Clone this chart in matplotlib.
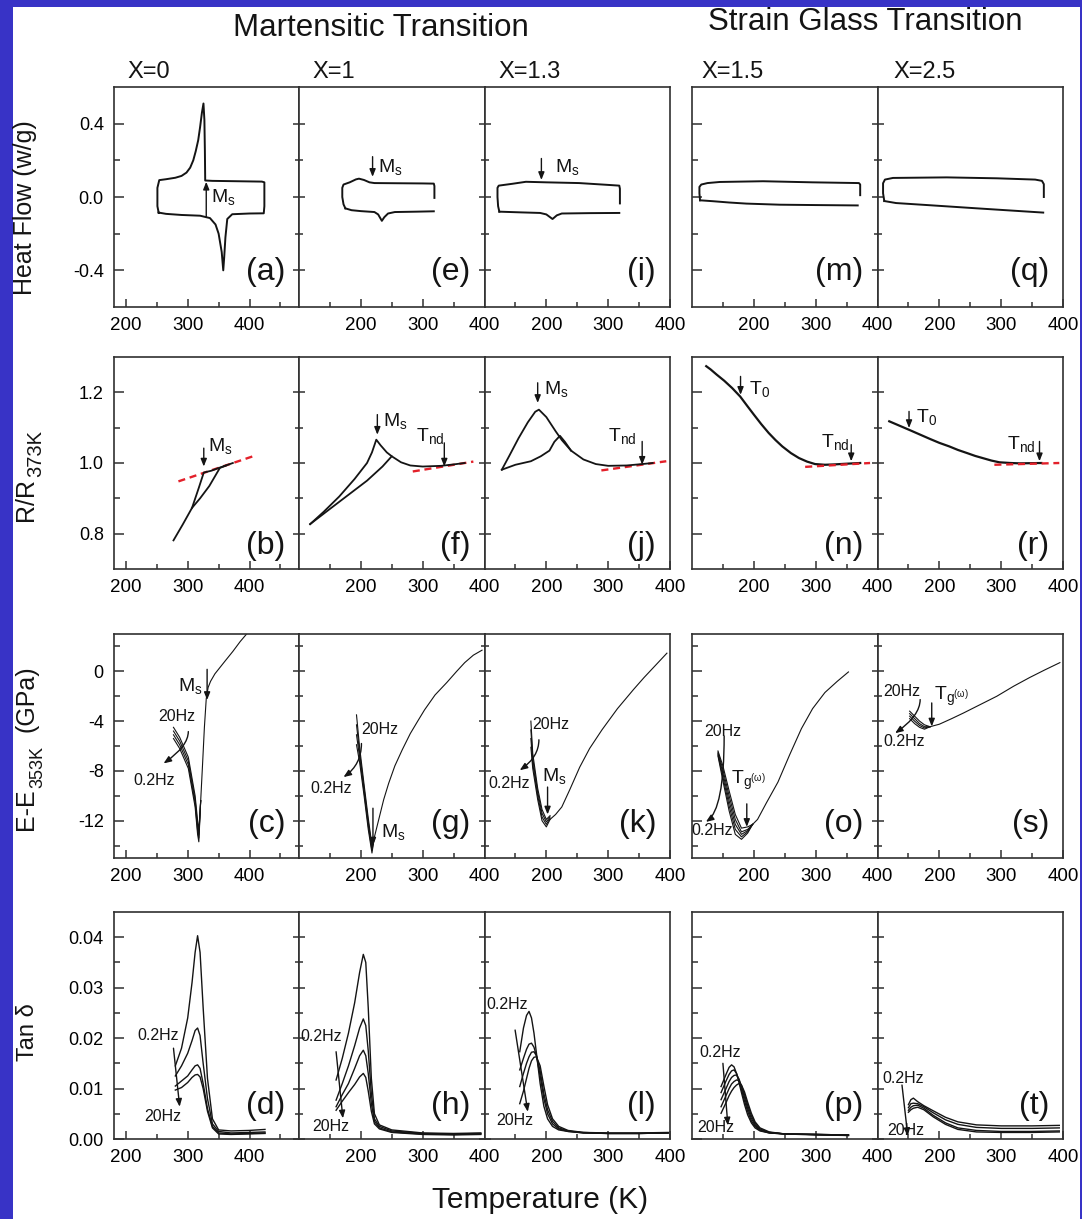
import matplotlib
matplotlib.use("Agg")
import matplotlib.pyplot as plt
from matplotlib.patches import Rectangle
from matplotlib.ticker import FixedLocator

plt.rcParams["font.family"] = ["Liberation Sans", "DejaVu Sans"]
plt.rcParams["mathtext.fontset"] = "custom"
plt.rcParams["mathtext.rm"] = "Liberation Sans"
plt.rcParams["mathtext.it"] = "Liberation Sans"
plt.rcParams["mathtext.default"] = "regular"

# ---------------- values ----------------
compositions = ["X=0", "X=1", "X=1.3", "X=1.5", "X=2.5"]
letters = [["(a)", "(e)", "(i)", "(m)", "(q)"],
           ["(b)", "(f)", "(j)", "(n)", "(r)"],
           ["(c)", "(g)", "(k)", "(o)", "(s)"],
           ["(d)", "(h)", "(l)", "(p)", "(t)"]]

# row 1: heat flow (w/g)
hf_a_T = [253, 251, 251, 254, 265, 280, 290, 298, 304, 309, 313, 317, 320, 323, 325.5, 327, 327.8, 328.3, 340, 380,
          420, 424, 424, 423, 400, 372, 364, 361, 359, 357.5, 355, 350, 345, 336, 320, 290, 265, 253]
hf_a_Q = [-0.085, -0.05, 0.05, 0.092, 0.097, 0.105, 0.115, 0.133, 0.16, 0.2, 0.25, 0.31, 0.38, 0.46, 0.51, 0.42,
          0.25, 0.09, 0.088, 0.086, 0.084, 0.08, -0.05, -0.089, -0.09, -0.094, -0.12, -0.22, -0.33, -0.40, -0.30,
          -0.20, -0.15, -0.115, -0.102, -0.098, -0.092, -0.085]
hf_e_up_T = [175, 172, 170, 170, 172, 182, 192, 197, 205, 214, 222, 260, 300, 318, 319, 319]
hf_e_up_Q = [-0.062, -0.04, 0.0, 0.05, 0.068, 0.08, 0.096, 0.10, 0.093, 0.08, 0.076, 0.075, 0.074, 0.073, 0.06, -0.005]
hf_e_lo_T = [175, 185, 200, 222, 228, 234, 238, 244, 255, 290, 318]
hf_e_lo_Q = [-0.062, -0.072, -0.077, -0.082, -0.095, -0.13, -0.11, -0.09, -0.082, -0.08, -0.078]
hf_i_up_T = [124, 122, 121, 121, 123, 145, 167, 200, 253, 300, 318, 319, 319]
hf_i_up_Q = [-0.08, -0.05, 0.0, 0.05, 0.062, 0.072, 0.083, 0.08, 0.076, 0.066, 0.062, 0.045, -0.035]
hf_i_lo_T = [124, 160, 190, 200, 210, 217, 225, 270, 318]
hf_i_lo_Q = [-0.08, -0.084, -0.087, -0.095, -0.12, -0.10, -0.09, -0.088, -0.087]
hf_m_up_T = [113, 112, 112, 115, 125, 145, 215, 295, 370, 372, 372]
hf_m_up_Q = [-0.018, 0.02, 0.055, 0.068, 0.076, 0.082, 0.086, 0.08, 0.076, 0.068, 0.01]
hf_m_lo_T = [113, 134, 160, 188, 242, 300, 368]
hf_m_lo_Q = [-0.018, -0.023, -0.03, -0.036, -0.042, -0.044, -0.046]
hf_q_up_T = [111, 109, 109, 112, 125, 212, 293, 355, 366, 369, 369]
hf_q_up_Q = [-0.022, 0.02, 0.075, 0.095, 0.104, 0.107, 0.102, 0.095, 0.088, 0.07, 0.0]
hf_q_lo_T = [111, 130, 185, 266, 368]
hf_q_lo_Q = [-0.022, -0.033, -0.045, -0.063, -0.085]

# row 2: R/R373K
rr_b_cool_T = [277, 292, 307, 318, 326, 338, 352, 362, 373]
rr_b_cool_R = [0.781, 0.826, 0.873, 0.93, 0.973, 0.978, 0.987, 0.993, 1.0]
rr_b_heat_T = [307, 320, 335, 345, 352, 362]
rr_b_heat_R = [0.873, 0.90, 0.935, 0.965, 0.986, 0.993]
rr_b_fit_T = [285, 409]
rr_b_fit_R = [0.948, 1.021]
rr_f_cool_T = [118, 140, 165, 190, 210, 218, 225, 232, 242, 250, 265, 280, 300, 330, 350, 368]
rr_f_cool_R = [0.827, 0.862, 0.905, 0.955, 1.0, 1.03, 1.066, 1.05, 1.03, 1.019, 1.002, 0.993, 0.99, 0.992, 0.996, 1.0]
rr_f_heat_T = [118, 150, 180, 210, 235, 250]
rr_f_heat_R = [0.827, 0.87, 0.91, 0.95, 0.99, 1.019]
rr_f_fit_T = [284, 382]
rr_f_fit_R = [0.976, 1.004]
rr_j_cool_T = [128, 140, 155, 170, 182, 188, 200, 215, 225, 240, 260, 280, 300, 330, 355, 372]
rr_j_cool_R = [0.981, 1.02, 1.07, 1.115, 1.145, 1.151, 1.13, 1.09, 1.065, 1.035, 1.01, 0.997, 0.992, 0.993, 0.997, 1.0]
rr_j_heat_T = [128, 150, 175, 191, 205, 213, 222, 230, 240]
rr_j_heat_R = [0.981, 0.995, 1.005, 1.019, 1.035, 1.06, 1.077, 1.06, 1.035]
rr_j_fit_T = [289, 394]
rr_j_fit_R = [0.979, 1.005]
rr_n_T = [123, 130, 140, 152, 165, 178, 190, 200, 212, 224, 235, 246, 260, 273, 286, 299, 315, 330, 350, 372]
rr_n_R = [1.274, 1.265, 1.25, 1.233, 1.212, 1.188, 1.16, 1.137, 1.11, 1.085, 1.065, 1.047, 1.028, 1.014, 1.004,
          0.997, 0.995, 0.996, 0.998, 1.0]
rr_n_fit_T = [283, 388]
rr_n_fit_R = [0.989, 1.0]
rr_r_T = [119, 135, 151, 168, 185, 200, 216, 230, 245, 258, 270, 284, 297, 315, 330, 365]
rr_r_R = [1.118, 1.106, 1.094, 1.081, 1.068, 1.057, 1.047, 1.037, 1.028, 1.02, 1.014, 1.007, 1.002, 1.0, 0.999, 1.0]
rr_r_fit_T = [289, 394]
rr_r_fit_R = [0.995, 1.0]

# row 3: E - E353K (GPa), one list per frequency (20 Hz ... 0.2 Hz) + common heating branch
ee_c_T = [277, 287, 301, 312, 316, 318, 321]
ee_c_f1 = [-4.5, -5.3, -6.9, -10.0, -12.0, -12.8, -10.4]
ee_c_f2 = [-4.8, -5.6, -7.2, -10.3, -12.4, -13.1, -10.4]
ee_c_f3 = [-5.1, -5.9, -7.5, -10.6, -12.8, -13.4, -10.4]
ee_c_f4 = [-5.4, -6.2, -7.8, -10.9, -13.1, -13.7, -10.4]
ee_c_up_T = [321, 324, 327, 330, 333, 337, 344, 352, 360, 373, 385, 397]
ee_c_up_E = [-10.4, -7.5, -4.5, -2.2, -1.3, -0.8, -0.2, 0.3, 0.8, 1.6, 2.4, 3.1]
ee_g_T = [193, 198, 205, 212, 218, 222]
ee_g_f1 = [-3.5, -6.1, -9.0, -11.8, -14.0, -13.3]
ee_g_f2 = [-4.3, -6.5, -9.3, -12.1, -14.2, -13.3]
ee_g_f3 = [-5.1, -6.9, -9.6, -12.4, -14.4, -13.3]
ee_g_f4 = [-5.9, -7.3, -9.9, -12.7, -14.6, -13.3]
ee_g_up_T = [222, 226, 230, 237, 245, 255, 267, 280, 292, 303, 320, 339, 355, 368, 382, 396]
ee_g_up_E = [-13.3, -12.5, -11.7, -10.3, -9.0, -7.6, -6.3, -5.0, -4.0, -3.1, -1.9, -0.9, 0.0, 0.7, 1.3, 1.7]
ee_k_T = [175, 178, 186, 193, 200, 206]
ee_k_f1 = [-4.0, -6.6, -9.4, -11.1, -11.9, -11.6]
ee_k_f2 = [-4.7, -7.0, -9.7, -11.4, -12.1, -11.7]
ee_k_f3 = [-5.4, -7.4, -10.0, -11.7, -12.3, -11.8]
ee_k_f4 = [-6.1, -7.8, -10.3, -12.0, -12.5, -11.9]
ee_k_up_T = [206, 215, 225, 238, 254, 270, 290, 315, 341, 358, 375, 395]
ee_k_up_E = [-11.9, -11.5, -10.9, -9.5, -7.7, -6.2, -4.7, -3.0, -1.46, -0.5, 0.4, 1.46]
ee_o_T = [142, 150, 160, 170, 180, 190, 198]
ee_o_f1 = [-6.4, -7.6, -9.6, -11.5, -12.6, -12.5, -12.3]
ee_o_f2 = [-6.5, -7.9, -10.0, -11.9, -12.9, -12.7, -12.3]
ee_o_f3 = [-6.6, -8.2, -10.4, -12.3, -13.1, -12.8, -12.3]
ee_o_f4 = [-6.7, -8.5, -10.8, -12.7, -13.3, -12.9, -12.3]
ee_o_f5 = [-6.8, -8.8, -11.2, -13.1, -13.5, -13.0, -12.3]
ee_o_up_T = [198, 206, 220, 239, 258, 277, 295, 315, 335, 353]
ee_o_up_E = [-12.3, -11.9, -10.6, -8.9, -6.7, -4.6, -3.0, -1.7, -0.8, -0.05]
ee_s_T = [152, 160, 168, 176, 185]
ee_s_f1 = [-3.2, -3.6, -4.0, -4.3, -4.45]
ee_s_f2 = [-3.4, -3.8, -4.2, -4.45, -4.45]
ee_s_f3 = [-3.6, -4.0, -4.35, -4.55, -4.45]
ee_s_f4 = [-3.8, -4.2, -4.5, -4.65, -4.45]
ee_s_up_T = [185, 200, 220, 239, 265, 293, 320, 346, 370, 395]
ee_s_up_E = [-4.45, -4.25, -3.8, -3.35, -2.7, -2.0, -1.2, -0.5, 0.1, 0.7]

# row 4: tan delta, 0.2 Hz (top) ... 20 Hz (bottom)
td_d_T = [280, 290, 300, 307, 312, 316, 320, 325, 332, 340, 350, 370, 400, 425]
td_d_f1 = [0.0145, 0.018, 0.024, 0.031, 0.037, 0.0403, 0.037, 0.026, 0.012, 0.004, 0.0018, 0.0016, 0.0017, 0.0019]
td_d_f2 = [0.0125, 0.0145, 0.017, 0.0195, 0.0215, 0.022, 0.0205, 0.015, 0.008, 0.003, 0.0015, 0.0012, 0.0013, 0.0014]
td_d_f3 = [0.0105, 0.0115, 0.0125, 0.0137, 0.0145, 0.0147, 0.014, 0.011, 0.006, 0.0025, 0.0012, 0.001, 0.0011, 0.0012]
td_d_f4 = [0.0097, 0.0102, 0.0112, 0.0122, 0.0127, 0.0128, 0.0123, 0.01, 0.0055, 0.0022, 0.001, 0.0009, 0.001, 0.0011]
td_h_T = [160, 170, 180, 190, 198, 204, 208, 212, 217, 222, 230, 250, 300, 350, 394]
td_h_f1 = [0.0117, 0.016, 0.021, 0.027, 0.033, 0.0366, 0.035, 0.026, 0.012, 0.005, 0.0028, 0.0018, 0.0012, 0.0011, 0.0012]
td_h_f2 = [0.0077, 0.011, 0.0145, 0.0185, 0.022, 0.0238, 0.0225, 0.0175, 0.009, 0.004, 0.0025, 0.0016, 0.0011, 0.001, 0.0011]
td_h_f3 = [0.0064, 0.0088, 0.011, 0.014, 0.0165, 0.0176, 0.0165, 0.013, 0.007, 0.0035, 0.0022, 0.0014, 0.001, 0.0009, 0.001]
td_h_f4 = [0.0057, 0.0075, 0.0092, 0.0108, 0.0123, 0.013, 0.0122, 0.0095, 0.0055, 0.003, 0.002, 0.0013, 0.0009, 0.0008, 0.0009]
td_l_T = [157, 163, 168, 172, 176, 180, 184, 190, 196, 202, 210, 220, 235, 260, 300, 350, 397]
td_l_f1 = [0.0173, 0.022, 0.0245, 0.0253, 0.024, 0.021, 0.017, 0.011, 0.0065, 0.004, 0.0025, 0.0018, 0.0015, 0.0013, 0.0012, 0.0012, 0.0013]
td_l_f2 = [0.0137, 0.016, 0.0178, 0.0188, 0.019, 0.0182, 0.0165, 0.0125, 0.008, 0.005, 0.003, 0.002, 0.0015, 0.0012, 0.0011, 0.0011, 0.0012]
td_l_f3 = [0.0104, 0.013, 0.015, 0.0163, 0.0172, 0.0173, 0.0165, 0.0135, 0.009, 0.0058, 0.0035, 0.0022, 0.0016, 0.0012, 0.0011, 0.0011, 0.0012]
td_l_f4 = [0.007, 0.0095, 0.012, 0.014, 0.0155, 0.0162, 0.0163, 0.0145, 0.0105, 0.0068, 0.004, 0.0025, 0.0017, 0.0013, 0.0011, 0.0011, 0.0012]
td_p_T = [147, 155, 160, 164, 168, 172, 176, 180, 185, 190, 196, 202, 210, 225, 250, 300, 353]
td_p_f1 = [0.0104, 0.0128, 0.0142, 0.0147, 0.0143, 0.013, 0.0112, 0.0092, 0.0068, 0.0048, 0.0032, 0.0022, 0.0016, 0.0012, 0.001, 0.0009, 0.0008]
td_p_f2 = [0.0092, 0.0115, 0.0128, 0.0135, 0.0137, 0.013, 0.0116, 0.0098, 0.0075, 0.0055, 0.0036, 0.0025, 0.0017, 0.0012, 0.001, 0.0009, 0.0008]
td_p_f3 = [0.0078, 0.01, 0.0114, 0.0122, 0.0126, 0.0127, 0.0119, 0.0104, 0.0082, 0.0061, 0.0041, 0.0028, 0.0018, 0.0013, 0.001, 0.0009, 0.0008]
td_p_f4 = [0.0064, 0.0086, 0.01, 0.0109, 0.0114, 0.0117, 0.0116, 0.0106, 0.0088, 0.0067, 0.0046, 0.0031, 0.002, 0.0013, 0.001, 0.0009, 0.0007]
td_p_f5 = [0.0051, 0.0072, 0.0086, 0.0095, 0.0102, 0.0107, 0.011, 0.0107, 0.0093, 0.0073, 0.0051, 0.0034, 0.0022, 0.0014, 0.001, 0.0008, 0.0007]
td_t_T = [150, 154, 158, 165, 175, 190, 210, 230, 260, 300, 350, 394]
td_t_f1 = [0.0068, 0.0078, 0.0081, 0.0074, 0.0066, 0.0056, 0.0043, 0.0034, 0.0028, 0.0026, 0.0026, 0.0027]
td_t_f2 = [0.0062, 0.007, 0.0071, 0.007, 0.0064, 0.0052, 0.0038, 0.0029, 0.0023, 0.0021, 0.0021, 0.0022]
td_t_f3 = [0.0057, 0.0063, 0.0066, 0.0067, 0.0061, 0.0047, 0.0032, 0.0022, 0.0017, 0.0015, 0.0015, 0.0016]
td_t_f4 = [0.0053, 0.0058, 0.0061, 0.0063, 0.0058, 0.0044, 0.0029, 0.0019, 0.0014, 0.0013, 0.0013, 0.0014]

# annotations: text (x, y, label, size) and arrows (tail x, tail y, head x, head y)
notes_a = [(338, 0.0, "M$_s$", 14)]
arrows_a = [(330, -0.107, 330, 0.083)]
notes_e = [(228, 0.165, "M$_s$", 14)]
arrows_e = [(219, 0.22, 219, 0.11)]
notes_i = [(214, 0.165, "M$_s$", 14)]
arrows_i = [(192, 0.21, 192, 0.093)]

notes_b = [(333, 1.047, "M$_s$", 14)]
arrows_b = [(326, 1.042, 326, 0.99)]
notes_f = [(236, 1.12, "M$_s$", 14), (290, 1.075, "T$_{nd}$", 14)]
arrows_f = [(226.7, 1.137, 226.7, 1.08), (335, 1.057, 335, 0.99)]
notes_j = [(196, 1.21, "M$_s$", 14), (299, 1.075, "T$_{nd}$", 14)]
arrows_j = [(186, 1.227, 186, 1.17), (355, 1.061, 355, 0.995)]
notes_n = [(192, 1.21, "T$_0$", 14), (309, 1.06, "T$_{nd}$", 14)]
arrows_n = [(178.5, 1.245, 178.5, 1.193), (357.5, 1.052, 357.5, 1.005)]
notes_r = [(163, 1.13, "T$_0$", 14), (310, 1.055, "T$_{nd}$", 14)]
arrows_r = [(151, 1.146, 151, 1.099), (362, 1.061, 362, 1.005)]

notes_c = [(284, -1.2, "M$_s$", 14), (252, -3.6, "20Hz", 11.5), (212, -8.75, "0.2Hz", 11.5)]
arrows_c = [(331.4, 0.16, 331.4, -2.3)]
bends_c = [(301, -4.84, 261, -7.4)]
notes_g = [(233, -12.9, "M$_s$", 14), (201, -4.7, "20Hz", 11.5), (118, -9.4, "0.2Hz", 11.5)]
arrows_g = [(219.6, -11.0, 219.6, -14.0)]
bends_g = [(201, -5.8, 172, -8.5)]
notes_k = [(193, -8.4, "M$_s$", 14), (178, -4.3, "20Hz", 11.5), (106, -9.0, "0.2Hz", 11.5)]
arrows_k = [(202, -9.3, 202, -11.5)]
bends_k = [(188, -5.5, 157, -7.95)]
notes_o = [(163, -8.8, "T$_{g^{(\\omega)}}$", 14), (120, -4.84, "20Hz", 11.5), (99, -12.8, "0.2Hz", 11.5)]
arrows_o = [(188.6, -10.65, 188.6, -12.5)]
bends_o = [(152, -5.2, 122.5, -12.1)]
notes_s = [(192, -2.0, "T$_{g^{(\\omega)}}$", 14), (109, -1.6, "20Hz", 11.5), (109, -5.65, "0.2Hz", 11.5)]
arrows_s = [(187.7, -2.54, 187.7, -4.43)]
bends_s = [(169, -2.27, 128.5, -4.97)]

notes_d = [(218, 0.0206, "0.2Hz", 11.5), (230, 0.0044, "20Hz", 11.5)]
arrows_d = [(277, 0.018, 287, 0.0064)]
notes_h = [(103, 0.0203, "0.2Hz", 11.5), (122, 0.0024, "20Hz", 11.5)]
arrows_h = [(160, 0.0173, 171, 0.0041)]
notes_l = [(102.5, 0.0266, "0.2Hz", 11.5), (119, 0.0037, "20Hz", 11.5)]
arrows_l = [(149.5, 0.0216, 170, 0.0054)]
notes_p = [(112.5, 0.0172, "0.2Hz", 11.5), (108, 0.0023, "20Hz", 11.5)]
arrows_p = [(150, 0.015, 158, 0.0027)]
notes_t = [(107.5, 0.012, "0.2Hz", 11.5), (115.6, 0.0016, "20Hz", 11.5)]
arrows_t = [(139.6, 0.0107, 149, 0.0006)]

# ---------------- layout (pixels of the 1082 x 1219 picture) ----------------
W, H = 1082, 1219
INK = "#141414"
BLUE = "#3833c6"
rows_px = [(87, 307), (357, 569), (634, 858), (912, 1139)]
cols_px = [113.5, 299, 484.5, 692, 877.5]
col_w = 185.5
xlims = [(180, 480), (100, 400), (100, 400), (100, 400), (100, 400)]
x_minor = [[250, 350, 450], [150, 250, 350], [150, 250, 350], [150, 250, 350], [150, 250, 350]]
ylims = [(-0.6, 0.6), (0.7, 1.3), (-15, 3), (0, 0.045)]
y_major = [[-0.4, 0.0, 0.4], [0.8, 1.0, 1.2], [-12, -8, -4, 0], [0, 0.01, 0.02, 0.03, 0.04]]
y_labels = [["-0.4", "0.0", "0.4"], ["0.8", "1.0", "1.2"], ["-12", "-8", "-4", "0"],
            ["0.00", "0.01", "0.02", "0.03", "0.04"]]
y_minor = [[-0.2, 0.2], [0.9, 1.1], [-14, -10, -6, -2, 2], [0.005, 0.015, 0.025, 0.035]]
letter_off = [35, 23, 34, 33]
line_w = [1.4, 1.3, 0.8, 1.0]

fig = plt.figure(figsize=(W / 100, H / 100), dpi=100, facecolor=BLUE)
fig.add_artist(Rectangle((12.7 / W, 0), (1080 - 12.7) / W, 1 - 7 / H, transform=fig.transFigure,
                         facecolor="white", edgecolor="none", zorder=-10))


def make_ax(r, c):
    top, bot = rows_px[r]
    ax = fig.add_axes([cols_px[c] / W, 1 - bot / H, col_w / W, (bot - top) / H])
    ax.set_xlim(*xlims[c])
    ax.set_ylim(*ylims[r])
    ax.xaxis.set_major_locator(FixedLocator([200, 300, 400]))
    ax.set_xticklabels(["200", "300", "400"])
    ax.xaxis.set_minor_locator(FixedLocator(x_minor[c]))
    ax.yaxis.set_major_locator(FixedLocator(y_major[r]))
    ax.set_yticklabels(y_labels[r])
    ax.yaxis.set_minor_locator(FixedLocator(y_minor[r]))
    for sp in ax.spines.values():
        sp.set_linewidth(1.2)
        sp.set_color("#303030")
    ax.tick_params(axis="x", which="major", direction="in", length=6, width=1.1, color="#303030",
                   labelsize=13.5, pad=7, top=False)
    ax.tick_params(axis="x", which="minor", direction="in", length=3.5, width=1.1, color="#303030", top=False)
    ydir = "in" if c in (0, 3) else "inout"
    ax.tick_params(axis="y", which="major", direction=ydir, length=7 if ydir == "in" else 8, width=1.1,
                   color="#303030", labelsize=13, pad=7, right=False, labelleft=(c == 0))
    ax.tick_params(axis="y", which="minor", direction=ydir, length=4.5 if ydir == "in" else 6, width=1.1,
                   color="#303030", right=False)
    h = bot - top
    ax.text(1 - 14 / col_w, letter_off[r] / h, letters[r][c], transform=ax.transAxes,
            ha="right", va="center", fontsize=23, color=INK)
    return ax


def decorate(ax, notes, arrows, bends=()):
    for x, y, s, size in notes:
        ax.text(x, y, s, fontsize=size, ha="left", va="center", color=INK)
    for x0, y0, x1, y1 in arrows:
        ax.annotate("", xy=(x1, y1), xytext=(x0, y0),
                    arrowprops=dict(arrowstyle="-|>,head_length=0.45,head_width=0.18", color=INK,
                                    lw=1.0, shrinkA=0, shrinkB=0))
    for x0, y0, x1, y1 in bends:
        ax.annotate("", xy=(x1, y1), xytext=(x0, y0),
                    arrowprops=dict(arrowstyle="-|>,head_length=0.45,head_width=0.18", color=INK,
                                    lw=1.0, shrinkA=0, shrinkB=0,
                                    connectionstyle="angle3,angleA=90,angleB=35"))


def fit_line(ax, T, R):
    ax.plot(T, R, color="#e3202a", lw=1.7, linestyle=(0, (3, 2)))


axes = [[make_ax(r, c) for c in range(5)] for r in range(4)]

# row 1 -- DSC
lw = line_w[0]
ax = axes[0][0]
ax.plot(hf_a_T, hf_a_Q, color=INK, lw=lw)
decorate(ax, notes_a, arrows_a)
ax = axes[0][1]
ax.plot(hf_e_up_T, hf_e_up_Q, color=INK, lw=lw)
ax.plot(hf_e_lo_T, hf_e_lo_Q, color=INK, lw=lw)
decorate(ax, notes_e, arrows_e)
ax = axes[0][2]
ax.plot(hf_i_up_T, hf_i_up_Q, color=INK, lw=lw)
ax.plot(hf_i_lo_T, hf_i_lo_Q, color=INK, lw=lw)
decorate(ax, notes_i, arrows_i)
ax = axes[0][3]
ax.plot(hf_m_up_T, hf_m_up_Q, color=INK, lw=lw)
ax.plot(hf_m_lo_T, hf_m_lo_Q, color=INK, lw=lw)
ax = axes[0][4]
ax.plot(hf_q_up_T, hf_q_up_Q, color=INK, lw=lw)
ax.plot(hf_q_lo_T, hf_q_lo_Q, color=INK, lw=lw)

# row 2 -- resistance
lw = line_w[1]
ax = axes[1][0]
fit_line(ax, rr_b_fit_T, rr_b_fit_R)
ax.plot(rr_b_cool_T, rr_b_cool_R, color=INK, lw=lw)
ax.plot(rr_b_heat_T, rr_b_heat_R, color=INK, lw=lw)
decorate(ax, notes_b, arrows_b)
ax = axes[1][1]
fit_line(ax, rr_f_fit_T, rr_f_fit_R)
ax.plot(rr_f_cool_T, rr_f_cool_R, color=INK, lw=lw)
ax.plot(rr_f_heat_T, rr_f_heat_R, color=INK, lw=lw)
decorate(ax, notes_f, arrows_f)
ax = axes[1][2]
fit_line(ax, rr_j_fit_T, rr_j_fit_R)
ax.plot(rr_j_cool_T, rr_j_cool_R, color=INK, lw=lw)
ax.plot(rr_j_heat_T, rr_j_heat_R, color=INK, lw=lw)
decorate(ax, notes_j, arrows_j)
ax = axes[1][3]
ax.plot(rr_n_T, rr_n_R, color=INK, lw=lw + 0.3)
fit_line(ax, rr_n_fit_T, rr_n_fit_R)
decorate(ax, notes_n, arrows_n)
ax = axes[1][4]
ax.plot(rr_r_T, rr_r_R, color=INK, lw=lw + 0.3)
fit_line(ax, rr_r_fit_T, rr_r_fit_R)
decorate(ax, notes_r, arrows_r)

# row 3 -- modulus
lw = line_w[2]
ee_panels = [
    (axes[2][0], ee_c_T, [ee_c_f1, ee_c_f2, ee_c_f3, ee_c_f4], ee_c_up_T, ee_c_up_E, notes_c, arrows_c, bends_c),
    (axes[2][1], ee_g_T, [ee_g_f1, ee_g_f2, ee_g_f3, ee_g_f4], ee_g_up_T, ee_g_up_E, notes_g, arrows_g, bends_g),
    (axes[2][2], ee_k_T, [ee_k_f1, ee_k_f2, ee_k_f3, ee_k_f4], ee_k_up_T, ee_k_up_E, notes_k, arrows_k, bends_k),
    (axes[2][3], ee_o_T, [ee_o_f1, ee_o_f2, ee_o_f3, ee_o_f4, ee_o_f5], ee_o_up_T, ee_o_up_E, notes_o, arrows_o, bends_o),
    (axes[2][4], ee_s_T, [ee_s_f1, ee_s_f2, ee_s_f3, ee_s_f4], ee_s_up_T, ee_s_up_E, notes_s, arrows_s, bends_s),
]
for ax, T, curves, upT, upE, nts, arr, bnd in ee_panels:
    for E in curves:
        ax.plot(T, E, color=INK, lw=lw)
    ax.plot(upT, upE, color=INK, lw=lw)
    decorate(ax, nts, arr, bnd)

# row 4 -- internal friction
lw = line_w[3]
td_panels = [
    (axes[3][0], td_d_T, [td_d_f1, td_d_f2, td_d_f3, td_d_f4], notes_d, arrows_d),
    (axes[3][1], td_h_T, [td_h_f1, td_h_f2, td_h_f3, td_h_f4], notes_h, arrows_h),
    (axes[3][2], td_l_T, [td_l_f1, td_l_f2, td_l_f3, td_l_f4], notes_l, arrows_l),
    (axes[3][3], td_p_T, [td_p_f1, td_p_f2, td_p_f3, td_p_f4, td_p_f5], notes_p, arrows_p),
    (axes[3][4], td_t_T, [td_t_f1, td_t_f2, td_t_f3, td_t_f4], notes_t, arrows_t),
]
for ax, T, curves, nts, arr in td_panels:
    for v in curves:
        ax.plot(T, v, color=INK, lw=lw)
    decorate(ax, nts, arr)

# ---------------- figure texts ----------------
fig.text(381 / W, 1 - 35.5 / H, "Martensitic Transition", ha="center", va="baseline", fontsize=22.5, color=INK)
fig.text(865 / W, 1 - 30 / H, "Strain Glass Transition", ha="center", va="baseline", fontsize=22.5, color=INK)
comp_x = [127, 312, 498, 701, 893]
for x, s in zip(comp_x, compositions):
    fig.text(x / W, 1 - 78 / H, s, ha="left", va="baseline", fontsize=17, color=INK)

rot = dict(rotation=90, rotation_mode="anchor", va="baseline", color=INK)
fig.text(32 / W, 1 - 207.5 / H, "Heat Flow (w/g)", ha="center", fontsize=18, **rot)
fig.text(33 / W, 1 - 521 / H, "R/R", ha="left", fontsize=18, **rot)
fig.text(41 / W, 1 - 477 / H, "373K", ha="left", fontsize=14.5, **rot)
fig.text(33 / W, 1 - 830 / H, "E-E", ha="left", fontsize=18, **rot)
fig.text(42 / W, 1 - 788 / H, "353K", ha="left", fontsize=13, **rot)
fig.text(33 / W, 1 - 732 / H, "(GPa)", ha="left", fontsize=18, **rot)
fig.text(33.5 / W, 1 - 1032 / H, "Tan δ", ha="center", fontsize=17, **rot)
fig.text(540 / W, 1 - 1208 / H, "Temperature (K)", ha="center", va="baseline", fontsize=21.5, color=INK)

fig.savefig("out.png", dpi=100, facecolor=BLUE)
